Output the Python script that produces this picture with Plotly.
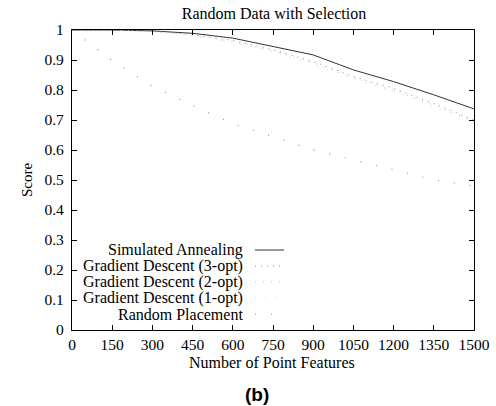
import plotly.graph_objects as go

points = [0, 150, 300, 450, 600, 750, 900, 1050, 1200, 1350, 1500]
sim_annealing = [1.0, 1.0, 0.997, 0.989, 0.973, 0.945, 0.917, 0.867, 0.828, 0.784, 0.737]
gd_3opt = [1.0, 1.0, 0.996, 0.985, 0.965, 0.934, 0.895, 0.845, 0.805, 0.755, 0.70]
gd_2opt = [1.0, 1.0, 0.995, 0.983, 0.962, 0.930, 0.890, 0.840, 0.800, 0.750, 0.695]
gd_1opt = [1.0, 1.0, 0.994, 0.981, 0.960, 0.927, 0.886, 0.836, 0.796, 0.746, 0.692]
random_place = [1.0, 0.898, 0.813, 0.748, 0.688, 0.644, 0.600, 0.567, 0.535, 0.500, 0.480]

series_names = ["Simulated Annealing", "Gradient Descent (3-opt)", "Gradient Descent (2-opt)",
                "Gradient Descent (1-opt)", "Random Placement"]
series_values = [sim_annealing, gd_3opt, gd_2opt, gd_1opt, random_place]
series_styles = [
    dict(color="#333333", width=1, dash="solid"),
    dict(color="#888888", width=1, dash="1px 5px"),
    dict(color="#c4c4c4", width=1, dash="1px 7px"),
    dict(color="#d4d4d4", width=1, dash="1px 9px"),
    dict(color="#909090", width=1.2, dash="1px 15px"),
]

SERIF = "Liberation Serif, Times New Roman, serif"

fig = go.Figure()
for name, vals, st in zip(series_names, series_values, series_styles):
    fig.add_trace(go.Scatter(x=points, y=vals, mode="lines", name=name, line=st, showlegend=False))

W, H = 496, 406
ml, mr, mt, mb = 72, 22, 30, 76
pw, ph = W - ml - mr, H - mt - mb


def px_x(px):
    return (px - ml) / pw


def px_y(py):
    return 1 - (py - mt) / ph


# legend drawn as right-aligned text with samples to the right (as in the original figure)
text_right_px = 245
sample_px = (255, 284)
row_px = [250, 266, 282, 298, 314]
for name, st, ry in zip(series_names, series_styles, row_px):
    fig.add_annotation(x=px_x(text_right_px), y=px_y(ry), xref="paper", yref="paper",
                       text=name, showarrow=False, xanchor="right", yanchor="middle",
                       font=dict(family=SERIF, size=16, color="black"))
    fig.add_shape(type="line", xref="paper", yref="paper",
                  x0=px_x(sample_px[0]), x1=px_x(sample_px[1]), y0=px_y(ry), y1=px_y(ry),
                  line=st)

# x-axis title and panel label
fig.add_annotation(x=px_x(272), y=px_y(362), xref="paper", yref="paper", text="Number of Point Features",
                   showarrow=False, xanchor="center", yanchor="middle",
                   font=dict(family=SERIF, size=16, color="black"))
fig.add_annotation(x=px_x(257), y=px_y(394), xref="paper", yref="paper", text="<b>(b)</b>",
                   showarrow=False, xanchor="center", yanchor="middle",
                   font=dict(family="Liberation Sans, Arial, sans-serif", size=19, color="black"))

axis_common = dict(showline=True, linecolor="black", linewidth=1.3, mirror="ticks",
                   ticks="inside", ticklen=5, tickcolor="black", showgrid=False, zeroline=False,
                   tickfont=dict(family=SERIF, size=15.5, color="black"))

fig.update_xaxes(range=[0, 1500], tickmode="array", tickvals=points,
                 ticktext=[str(p) for p in points],
                 automargin=False, **axis_common)
fig.update_yaxes(range=[0, 1], tickmode="array", tickvals=[i / 10 for i in range(11)],
                 ticktext=["0"] + [f"0.{i}" for i in range(1, 10)] + ["1"],
                 ticklabelstandoff=4,
                 title=dict(text="Score", font=dict(family=SERIF, size=15, color="black"), standoff=8),
                 automargin=False, **axis_common)

fig.update_layout(
    width=W, height=H,
    margin=dict(l=ml, r=mr, t=mt, b=mb),
    plot_bgcolor="white", paper_bgcolor="white",
    title=dict(text="Random Data with Selection", x=274 / W, xanchor="center",
               y=1 - 13 / H, yanchor="middle",
               font=dict(family=SERIF, size=16, color="black")),
    showlegend=False,
)

fig.write_html("out.html", config={"displayModeBar": False},
               post_script="document.body.style.margin='0';document.body.style.overflow='hidden';")
